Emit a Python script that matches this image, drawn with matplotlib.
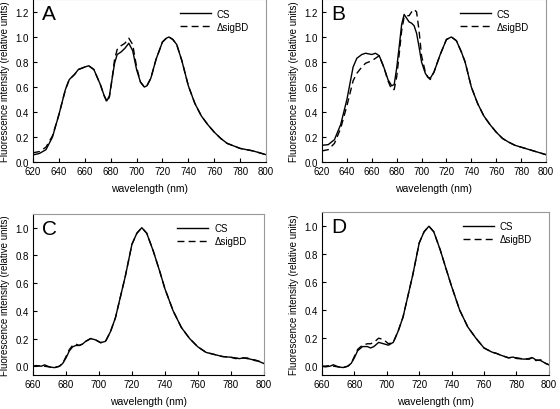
import matplotlib
matplotlib.use("Agg")
from matplotlib import pyplot as plt

plt.rcParams["font.family"] = ["Liberation Sans", "DejaVu Sans"]

# panel A
wl_a = [620, 625, 630, 635, 640, 645, 648, 652, 655, 660, 663, 667, 672, 675, 677, 679,
        681, 683, 685, 688, 691, 694, 697, 700, 703, 706, 708, 711, 715, 720, 723, 725,
        728, 731, 735, 740, 745, 750, 755, 760, 765, 770, 775, 780, 785, 790, 795, 800]
cs_a = [0.058, 0.07, 0.10, 0.2, 0.38, 0.58, 0.66, 0.70, 0.74, 0.76, 0.77, 0.74, 0.62, 0.53,
        0.49, 0.53, 0.66, 0.79, 0.86, 0.88, 0.91, 0.95, 0.89, 0.74, 0.64, 0.60, 0.61, 0.67,
        0.82, 0.96, 0.99, 1.0, 0.98, 0.94, 0.81, 0.61, 0.47, 0.37, 0.30, 0.24, 0.19, 0.15,
        0.13, 0.11, 0.10, 0.09, 0.075, 0.06]
sig_a = [0.075, 0.085, 0.12, 0.21, 0.38, 0.58, 0.66, 0.70, 0.74, 0.76, 0.77, 0.74, 0.62,
         0.53, 0.48, 0.52, 0.66, 0.82, 0.90, 0.93, 0.95, 0.99, 0.94, 0.76, 0.64, 0.60, 0.61,
         0.67, 0.82, 0.96, 0.99, 1.0, 0.98, 0.94, 0.81, 0.61, 0.47, 0.37, 0.30, 0.24, 0.19,
         0.15, 0.13, 0.11, 0.10, 0.09, 0.075, 0.06]

# panel B
wl_b = [620, 625, 630, 635, 640, 645, 648, 652, 655, 660, 663, 666, 670, 673, 676, 678,
        680, 682, 684, 686, 688, 690, 692, 694, 696, 698, 700, 703, 705, 707, 710, 715,
        720, 724, 728, 732, 735, 740, 745, 750, 755, 760, 765, 770, 775, 780, 785, 790,
        795, 800]
cs_b = [0.135, 0.14, 0.18, 0.30, 0.50, 0.76, 0.83, 0.86, 0.87, 0.86, 0.87, 0.85, 0.75,
        0.66, 0.61, 0.62, 0.75, 0.92, 1.10, 1.18, 1.15, 1.12, 1.11, 1.09, 1.03, 0.92, 0.80,
        0.71, 0.68, 0.67, 0.72, 0.86, 0.98, 1.0, 0.97, 0.88, 0.80, 0.60, 0.47, 0.37, 0.30,
        0.24, 0.19, 0.16, 0.135, 0.12, 0.105, 0.09, 0.075, 0.06]
sig_b = [0.09, 0.10, 0.15, 0.27, 0.45, 0.65, 0.71, 0.76, 0.79, 0.81, 0.83, 0.85, 0.75,
         0.65, 0.58, 0.58, 0.68, 0.86, 1.05, 1.16, 1.17, 1.17, 1.20, 1.22, 1.20, 1.05, 0.85,
         0.72, 0.68, 0.66, 0.72, 0.86, 0.98, 1.0, 0.97, 0.88, 0.80, 0.60, 0.47, 0.37, 0.30,
         0.24, 0.19, 0.16, 0.135, 0.12, 0.105, 0.09, 0.075, 0.06]

# panel C
wl_c = [660, 662, 665, 667, 670, 673, 676, 678, 680, 682, 684, 686, 688, 690, 692, 695,
        698, 701, 704, 707, 710, 713, 716, 720, 723, 726, 729, 733, 737, 740, 745, 750,
        755, 760, 765, 770, 775, 780, 783, 785, 788, 790, 792, 795, 798, 800]
cs_c = [0.0, 0.005, 0.0, 0.01, -0.005, -0.01, 0.0, 0.02, 0.06, 0.11, 0.14, 0.15, 0.15,
        0.16, 0.18, 0.20, 0.19, 0.17, 0.18, 0.25, 0.35, 0.50, 0.65, 0.88, 0.96, 1.0, 0.96,
        0.83, 0.68, 0.56, 0.40, 0.28, 0.20, 0.14, 0.10, 0.085, 0.07, 0.065, 0.06, 0.055,
        0.06, 0.06, 0.05, 0.045, 0.03, 0.02]
sig_c = [0.0, 0.0, 0.005, 0.0, -0.005, -0.01, 0.0, 0.02, 0.07, 0.12, 0.15, 0.16, 0.15,
         0.16, 0.18, 0.20, 0.19, 0.17, 0.18, 0.25, 0.35, 0.50, 0.65, 0.88, 0.96, 1.0, 0.96,
         0.83, 0.68, 0.56, 0.40, 0.28, 0.20, 0.14, 0.10, 0.085, 0.07, 0.065, 0.055, 0.06,
         0.06, 0.055, 0.05, 0.04, 0.035, 0.02]

# panel D
wl_d = [660, 662, 665, 667, 670, 673, 676, 678, 680, 682, 685, 688, 690, 692, 695, 698,
        701, 704, 707, 710, 713, 716, 720, 723, 726, 729, 733, 737, 740, 745, 750, 755,
        760, 765, 768, 770, 775, 778, 780, 785, 788, 790, 792, 795, 798, 800]
cs_d = [0.0, -0.005, 0.0, 0.01, -0.005, -0.01, 0.0, 0.02, 0.06, 0.11, 0.14, 0.14, 0.13,
        0.14, 0.17, 0.16, 0.15, 0.17, 0.25, 0.35, 0.50, 0.65, 0.88, 0.96, 1.0, 0.96, 0.83,
        0.68, 0.57, 0.40, 0.28, 0.20, 0.13, 0.10, 0.09, 0.08, 0.06, 0.065, 0.055, 0.05,
        0.055, 0.06, 0.045, 0.04, 0.02, 0.01]
sig_d = [0.0, 0.0, 0.005, 0.0, -0.005, -0.01, 0.0, 0.02, 0.07, 0.12, 0.15, 0.16, 0.16,
         0.17, 0.20, 0.19, 0.16, 0.17, 0.25, 0.35, 0.50, 0.65, 0.88, 0.96, 1.0, 0.96, 0.83,
         0.68, 0.57, 0.40, 0.28, 0.20, 0.13, 0.10, 0.09, 0.08, 0.06, 0.06, 0.06, 0.05,
         0.05, 0.065, 0.04, 0.045, 0.02, 0.01]

panels = [
    ("A", wl_a, cs_a, sig_a, [0.059, 0.602, 0.416, 0.397], (620, 800), (0, 1.3),
     [620, 640, 660, 680, 700, 720, 740, 760, 780, 800], [0, 0.2, 0.4, 0.6, 0.8, 1.0, 1.2]),
    ("B", wl_b, cs_b, sig_b, [0.575, 0.602, 0.400, 0.397], (620, 800), (0, 1.3),
     [620, 640, 660, 680, 700, 720, 740, 760, 780, 800], [0, 0.2, 0.4, 0.6, 0.8, 1.0, 1.2]),
    ("C", wl_c, cs_c, sig_c, [0.059, 0.084, 0.412, 0.392], (660, 800), (-0.06, 1.1),
     [660, 680, 700, 720, 740, 760, 780, 800], [0, 0.2, 0.4, 0.6, 0.8, 1.0]),
    ("D", wl_d, cs_d, sig_d, [0.575, 0.084, 0.405, 0.396], (660, 800), (-0.06, 1.1),
     [660, 680, 700, 720, 740, 760, 780, 800], [0, 0.2, 0.4, 0.6, 0.8, 1.0]),
]

fig = plt.figure(figsize=(5.6, 4.1), dpi=100)

for name, wl, cs, sig, rect, xl, yl, xt, yt in panels:
    ax = fig.add_axes(rect)
    ax.plot(wl, cs, color="black", lw=1.0, label="CS")
    ax.plot(wl, sig, color="black", lw=1.0, ls=(0, (5, 3)), label="\u0394sigBD")
    ax.set_xlim(xl)
    ax.set_ylim(yl)
    ax.set_xticks(xt)
    ax.set_yticks(yt)
    ax.set_yticklabels(["%.1f" % v for v in yt])
    ax.tick_params(direction="in", length=3, labelsize=7, width=0.8, pad=3)
    for s in ["top", "right"]:
        ax.spines[s].set_color("#999999")
    for s in ["left", "bottom"]:
        ax.spines[s].set_color("black")
    for s in ax.spines.values():
        s.set_linewidth(0.8)
    ax.set_xlabel("wavelength (nm)", fontsize=7.5, labelpad=5)
    ax.set_ylabel("Fluorescence intensity (relative units)", fontsize=7, labelpad=4)
    ax.text(0.04, 0.97, name, transform=ax.transAxes, fontsize=15, va="top", ha="left")
    ax.legend(loc="upper right", bbox_to_anchor=(0.955, 0.985), frameon=False, fontsize=7,
              handlelength=3.2, handletextpad=0.6, labelspacing=0.3, borderpad=0.2)

fig.savefig("out.png", dpi=100)
